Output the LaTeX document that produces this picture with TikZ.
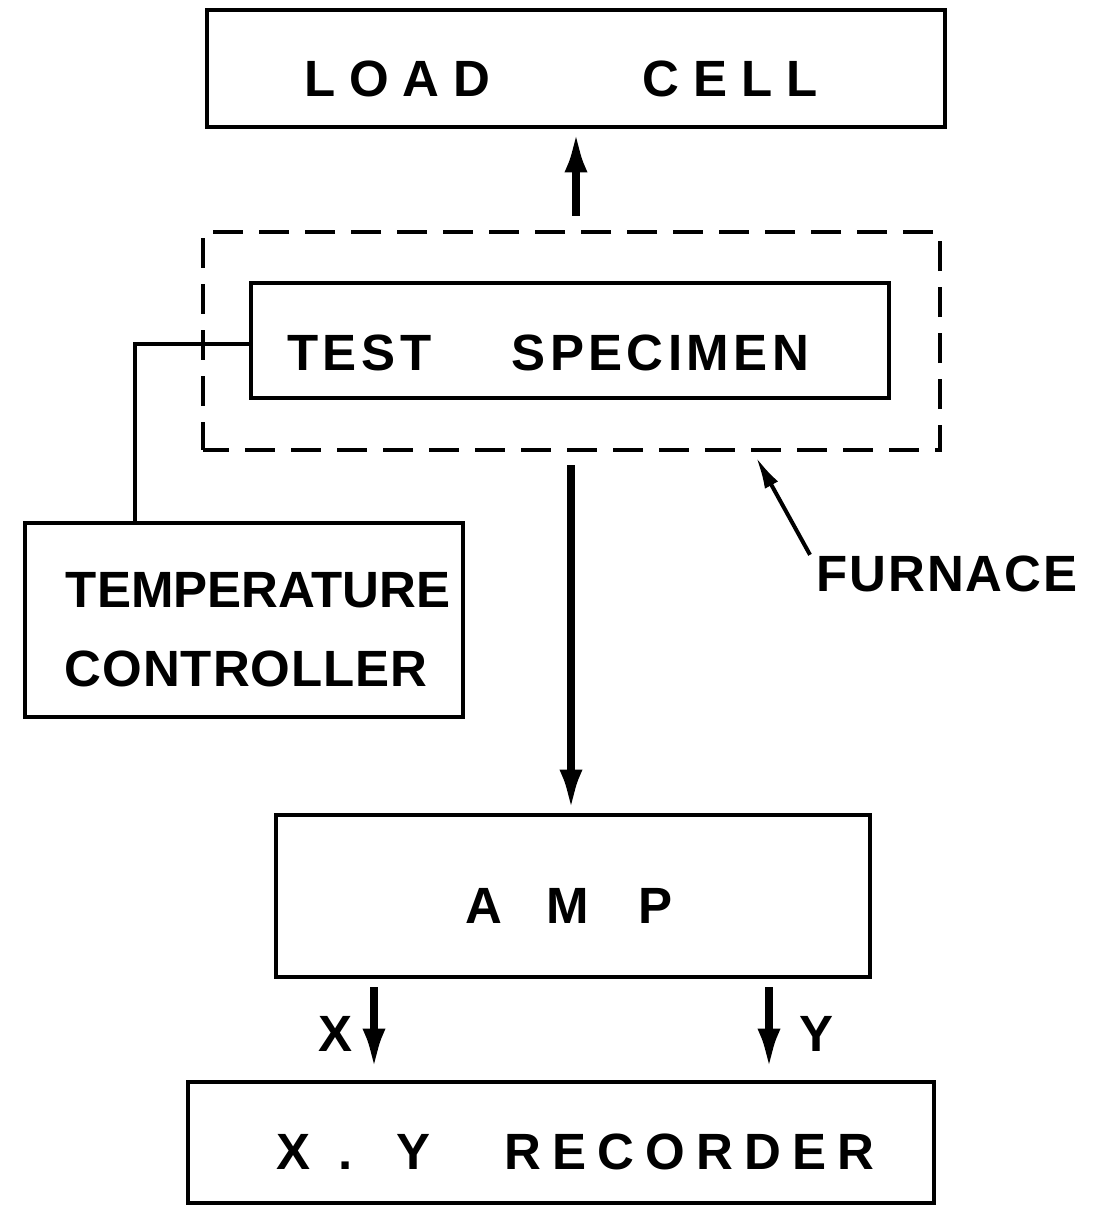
\documentclass[tikz,border=0pt]{standalone}
\usepackage{fontspec}
\setmainfont{Liberation Sans}
\usetikzlibrary{arrows.meta}
\makeatletter
\newcommand\trk[2]{\def\trk@sp{#1}\trk@a#2\@nil}
\def\trk@a#1{\ifx#1\@nil\else#1\expandafter\trk@b\fi}
\def\trk@b#1{\ifx#1\@nil\else\hspace{\trk@sp}\expandafter\trk@a\expandafter#1\fi}
\makeatother
\tikzset{
  every node/.style={font=\fontsize{25.5}{39.5}\selectfont\bfseries},
  box/.style={draw, line width=2.4pt, inner sep=0pt, text depth=0pt},
  furn/.style={draw, line width=2.4pt, dash pattern=on 15pt off 8pt, dash phase=2pt, inner sep=0pt},
  lbl/.style={inner sep=0pt, text height=18.3pt, text depth=0pt},
  arr/.style={line width=4pt, -{Latex[length=21pt,width=11.5pt]}},
  wire/.style={line width=2.3pt},
  ptr/.style={line width=2pt, -{Latex[length=16pt,width=7.5pt]}},
}
\begin{document}
\begin{tikzpicture}[x=0.5pt,y=-0.5pt]
\useasboundingbox (0,0) rectangle (1094,1205);
% boxes
\node[box, minimum width=369pt, minimum height=58.5pt, text height=28.3pt] (load) at (576,68.5)
  {\makebox[369pt][l]{\hspace*{48.5pt}\trk{7pt}{LOAD}\hspace{76pt}\trk{7pt}{CELL}}};
\node[furn, minimum width=368.5pt, minimum height=109pt] (furnace) at (571.5,341) {};
\node[box, minimum width=319pt, minimum height=57.5pt, text height=30.3pt] (spec) at (570,340.5)
  {\makebox[319pt][l]{\hspace*{18pt}\trk{2.4pt}{TEST}\hspace{40pt}\trk{2.2pt}{SPECIMEN}}};
\node[box, minimum width=219pt, minimum height=97pt, text width=219pt, align=left,
      text height=26.8pt, text depth=39.5pt] (tc) at (244,620)
  {\hspace*{20.5pt}TEMPERATURE\\\hspace*{20pt}\trk{0.45pt}{CONTROLLER}};
\node[box, minimum width=297pt, minimum height=81pt, text height=27.3pt] (amp) at (573,896)
  {\makebox[297pt][l]{\hspace*{94.5pt}A\hspace{22.5pt}M\hspace{24.5pt}P}};
\node[box, minimum width=373pt, minimum height=60.5pt, text height=27.3pt] (rec) at (561,1142.5)
  {\makebox[373pt][l]{\hspace*{44pt}X\hspace{14pt}.\hspace{22pt}Y\hspace{37pt}\trk{5.6pt}{RECORDER}}};
% labels
\node[lbl] (xl) at (336,1033.5) {X};
\node[lbl] (yl) at (816.5,1033.5) {Y};
\node[lbl, anchor=west] (furnlbl) at (816,573.5) {\trk{1pt}{FURNACE}};
% coordinates
\coordinate (upx) at (576,0);
\coordinate (dnx) at (571,0);
\coordinate (xx) at (374,0);
\coordinate (yx) at (769,0);
\coordinate (tcx) at (135,0);
\coordinate (ftip) at (756,457);
% connectors
\draw[arr, shorten <=7pt, shorten >=0.5pt] (upx |- furnace.north) -- (upx |- load.south);
\draw[arr, shorten <=6.5pt, shorten >=0.5pt] (dnx |- furnace.south) -- (dnx |- amp.north);
\draw[arr, shorten <=4pt, shorten >=4.5pt] (xx |- amp.south) -- (xx |- rec.north);
\draw[arr, shorten <=4pt, shorten >=4.5pt] (yx |- amp.south) -- (yx |- rec.north);
\draw[wire] ([yshift=-1.75pt]spec.west) -| (tcx |- tc.north);
\draw[ptr] ([xshift=-3pt]furnlbl.north west) -- (ftip);
\end{tikzpicture}
\end{document}
